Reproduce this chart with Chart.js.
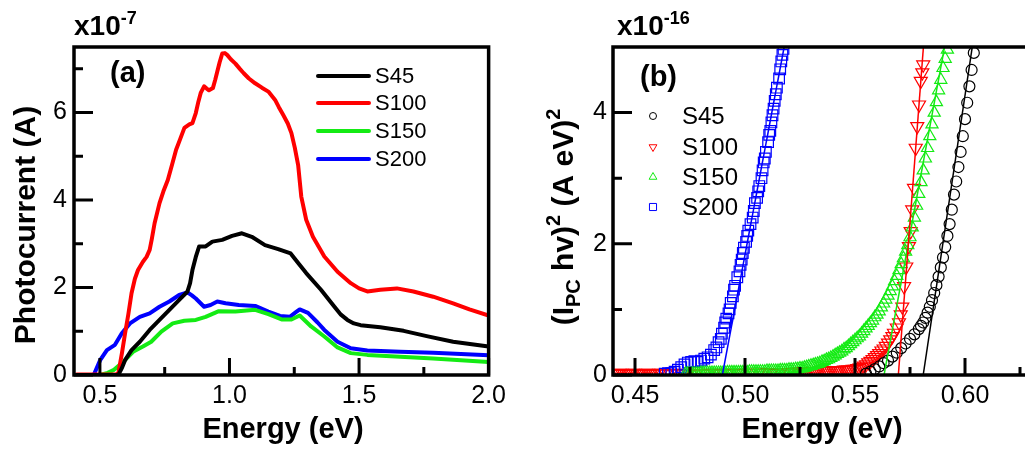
<!DOCTYPE html>
<html>
<head>
<meta charset="utf-8">
<script src="https://cdn.jsdelivr.net/npm/chart.js@4.4.0/dist/chart.umd.min.js"></script>
<style>
  html, body { margin: 0; padding: 0; background: #fff; overflow: hidden; width: 1025px; height: 450px; }
  #boxA { position: absolute; left: 0; top: 0; }
  #boxB { position: absolute; left: 512px; top: 0; }
</style>
</head>
<body>
<div id="boxA"><canvas id="chartA" width="512" height="450"></canvas></div>
<div id="boxB"><canvas id="chartB" width="530" height="450"></canvas></div>
<script>
const FONT = 'Arial, "Liberation Sans", Helvetica, sans-serif';
Chart.defaults.font.family = FONT;
Chart.defaults.color = '#000';

const sampleNames = ['S45', 'S100', 'S150', 'S200'];
const sampleColors = ['#000000', '#ff0000', 'rgb(20,235,20)', '#0000ff'];

// (a) photocurrent spectra, [energy eV, current x1e-7 A]
const photoS45 = [[0.41,0],[0.571,0],[0.584,0.15],[0.597,0.34],[0.622,0.57],[0.654,0.76],[0.692,1.03],[0.730,1.26],[0.768,1.49],[0.806,1.72],[0.838,1.91],[0.848,2.10],[0.857,2.40],[0.870,2.70],[0.883,2.94],[0.908,2.94],[0.934,3.05],[0.972,3.09],[1.010,3.18],[1.048,3.24],[1.086,3.16],[1.137,2.97],[1.188,2.88],[1.236,2.78],[1.265,2.56],[1.296,2.33],[1.353,1.95],[1.405,1.56],[1.430,1.38],[1.455,1.26],[1.480,1.18],[1.506,1.14],[1.582,1.09],[1.672,1.01],[1.761,0.89],[1.863,0.76],[2.0,0.65]];
const photoS100 = [[0.41,0.01],[0.50,0.01],[0.56,0.01],[0.571,0.04],[0.585,0.50],[0.597,0.95],[0.610,1.40],[0.622,1.87],[0.635,2.20],[0.647,2.40],[0.666,2.59],[0.680,2.70],[0.692,2.86],[0.700,3.10],[0.711,3.47],[0.730,3.93],[0.745,4.20],[0.762,4.46],[0.778,4.80],[0.794,5.15],[0.810,5.40],[0.826,5.65],[0.845,5.73],[0.857,5.76],[0.870,5.99],[0.880,6.25],[0.889,6.45],[0.902,6.60],[0.912,6.55],[0.921,6.51],[0.936,6.56],[0.945,6.75],[0.953,6.94],[0.962,7.15],[0.972,7.35],[0.982,7.36],[0.991,7.32],[1.005,7.22],[1.023,7.12],[1.040,7.00],[1.055,6.90],[1.075,6.78],[1.099,6.67],[1.125,6.57],[1.150,6.48],[1.176,6.29],[1.190,6.13],[1.207,5.95],[1.225,5.75],[1.239,5.53],[1.252,5.20],[1.265,4.80],[1.277,4.08],[1.296,3.55],[1.322,3.16],[1.366,2.71],[1.417,2.36],[1.468,2.10],[1.500,1.98],[1.532,1.91],[1.582,1.95],[1.646,1.98],[1.710,1.91],[1.786,1.79],[1.863,1.64],[1.926,1.50],[2.0,1.36]];
const photoS150 = [[0.41,0],[0.50,0],[0.530,0.05],[0.552,0.11],[0.590,0.30],[0.628,0.53],[0.666,0.65],[0.698,0.76],[0.737,0.99],[0.781,1.18],[0.826,1.24],[0.870,1.26],[0.908,1.33],[0.959,1.46],[1.023,1.45],[1.099,1.49],[1.150,1.39],[1.201,1.27],[1.239,1.27],[1.271,1.36],[1.315,1.11],[1.366,0.88],[1.417,0.63],[1.468,0.50],[1.532,0.46],[1.659,0.42],[1.786,0.38],[2.0,0.30]];
const photoS200 = [[0.41,0],[0.476,0],[0.501,0.34],[0.527,0.57],[0.558,0.69],[0.584,0.95],[0.616,1.18],[0.654,1.33],[0.692,1.41],[0.730,1.56],[0.768,1.68],[0.806,1.83],[0.838,1.89],[0.855,1.82],[0.870,1.75],[0.902,1.56],[0.927,1.60],[0.953,1.68],[0.985,1.64],[1.036,1.60],[1.099,1.58],[1.150,1.45],[1.195,1.35],[1.233,1.33],[1.255,1.43],[1.271,1.50],[1.303,1.42],[1.340,1.20],[1.366,1.03],[1.417,0.76],[1.468,0.61],[1.532,0.56],[1.659,0.53],[1.786,0.51],[2.0,0.45]];

// (b) (I_PC hv)^2 near the edge, [energy eV, value x1e-16]
const ipcS45 = [[0.555,0.02],[0.557,0.05],[0.559,0.09],[0.561,0.13],[0.563,0.18],[0.565,0.22],[0.567,0.28],[0.569,0.34],[0.571,0.41],[0.573,0.48],[0.575,0.55],[0.577,0.62],[0.579,0.70],[0.580,0.75],[0.581,0.80],[0.582,0.87],[0.583,0.95],[0.584,1.04],[0.585,1.14],[0.586,1.25],[0.587,1.37],[0.588,1.50],[0.589,1.64],[0.590,1.79],[0.591,1.95],[0.592,2.12],[0.593,2.30],[0.594,2.52],[0.595,2.75],[0.596,2.95],[0.597,3.17],[0.598,3.40],[0.599,3.64],[0.600,3.90],[0.601,4.15],[0.602,4.40],[0.603,4.65],[0.604,4.91]];
const ipcS100 = [[0.440,0.02],[0.441,0.02],[0.442,0.02],[0.443,0.03],[0.444,0.03],[0.445,0.02],[0.446,0.02],[0.447,0.02],[0.448,0.02],[0.449,0.03],[0.450,0.03],[0.451,0.02],[0.452,0.02],[0.453,0.02],[0.454,0.02],[0.455,0.03],[0.456,0.03],[0.457,0.02],[0.458,0.02],[0.459,0.02],[0.460,0.02],[0.461,0.03],[0.462,0.03],[0.464,0.02],[0.466,0.02],[0.468,0.03],[0.470,0.02],[0.472,0.02],[0.474,0.03],[0.476,0.02],[0.478,0.03],[0.480,0.02],[0.482,0.02],[0.484,0.03],[0.486,0.03],[0.488,0.02],[0.490,0.03],[0.492,0.03],[0.494,0.02],[0.496,0.03],[0.498,0.03],[0.500,0.03],[0.502,0.03],[0.504,0.03],[0.506,0.03],[0.508,0.03],[0.510,0.04],[0.512,0.03],[0.514,0.04],[0.516,0.04],[0.518,0.04],[0.520,0.04],[0.522,0.04],[0.524,0.05],[0.525,0.05],[0.526,0.05],[0.527,0.05],[0.528,0.05],[0.529,0.05],[0.530,0.05],[0.531,0.05],[0.532,0.05],[0.533,0.06],[0.534,0.06],[0.535,0.06],[0.536,0.06],[0.537,0.06],[0.538,0.06],[0.539,0.07],[0.540,0.07],[0.541,0.07],[0.542,0.07],[0.543,0.07],[0.544,0.07],[0.545,0.08],[0.546,0.08],[0.547,0.08],[0.548,0.08],[0.549,0.09],[0.550,0.09],[0.551,0.10],[0.552,0.11],[0.553,0.12],[0.554,0.14],[0.555,0.16],[0.556,0.19],[0.557,0.21],[0.558,0.24],[0.559,0.27],[0.560,0.30],[0.561,0.33],[0.562,0.37],[0.563,0.40],[0.564,0.44],[0.565,0.49],[0.566,0.54],[0.567,0.59],[0.5677,0.64],[0.569,0.72],[0.570,0.80],[0.5708,0.92],[0.5715,1.04],[0.5723,1.35],[0.5733,1.65],[0.5745,1.96],[0.5753,2.19],[0.576,2.52],[0.5768,2.85],[0.5776,3.46],[0.5783,3.79],[0.5791,4.12],[0.5799,4.48],[0.5806,4.61],[0.581,4.73]];
const ipcS150 = [[0.473,0.02],[0.474,0.02],[0.475,0.02],[0.476,0.02],[0.477,0.02],[0.478,0.02],[0.479,0.02],[0.480,0.03],[0.481,0.03],[0.482,0.03],[0.483,0.03],[0.484,0.03],[0.485,0.03],[0.486,0.03],[0.487,0.03],[0.488,0.03],[0.489,0.03],[0.490,0.03],[0.491,0.03],[0.492,0.04],[0.493,0.04],[0.494,0.04],[0.495,0.04],[0.496,0.04],[0.497,0.04],[0.498,0.04],[0.499,0.04],[0.500,0.04],[0.501,0.04],[0.502,0.05],[0.503,0.05],[0.504,0.05],[0.505,0.05],[0.506,0.05],[0.507,0.05],[0.508,0.05],[0.509,0.05],[0.510,0.06],[0.511,0.06],[0.512,0.06],[0.513,0.06],[0.514,0.06],[0.515,0.06],[0.516,0.07],[0.517,0.07],[0.518,0.07],[0.519,0.07],[0.520,0.08],[0.521,0.08],[0.522,0.08],[0.523,0.09],[0.524,0.09],[0.525,0.10],[0.526,0.10],[0.527,0.11],[0.528,0.12],[0.529,0.13],[0.530,0.14],[0.531,0.15],[0.532,0.16],[0.533,0.17],[0.534,0.18],[0.535,0.20],[0.536,0.21],[0.537,0.23],[0.538,0.24],[0.539,0.26],[0.540,0.28],[0.541,0.30],[0.542,0.32],[0.543,0.34],[0.544,0.36],[0.545,0.39],[0.546,0.41],[0.547,0.44],[0.548,0.47],[0.549,0.50],[0.550,0.53],[0.551,0.56],[0.552,0.59],[0.553,0.63],[0.554,0.67],[0.555,0.71],[0.556,0.75],[0.557,0.79],[0.558,0.83],[0.559,0.88],[0.560,0.92],[0.561,0.97],[0.562,1.03],[0.563,1.09],[0.564,1.15],[0.565,1.21],[0.566,1.28],[0.567,1.35],[0.568,1.43],[0.569,1.51],[0.570,1.60],[0.571,1.69],[0.572,1.78],[0.573,1.88],[0.574,1.98],[0.575,2.10],[0.576,2.25],[0.577,2.40],[0.578,2.58],[0.579,2.76],[0.580,2.94],[0.581,3.12],[0.582,3.30],[0.583,3.46],[0.584,3.64],[0.585,3.82],[0.586,4.00],[0.587,4.16],[0.588,4.34],[0.589,4.50],[0.590,4.68],[0.591,4.82],[0.592,4.96]];
const ipcS200 = [[0.4635,0.02],[0.465,0.03],[0.4665,0.03],[0.468,0.05],[0.4695,0.08],[0.471,0.12],[0.4725,0.16],[0.474,0.19],[0.4755,0.20],[0.477,0.21],[0.4785,0.20],[0.480,0.22],[0.4815,0.25],[0.483,0.27],[0.4845,0.31],[0.486,0.38],[0.487,0.42],[0.488,0.50],[0.489,0.55],[0.4895,0.63],[0.4905,0.72],[0.491,0.80],[0.4915,0.86],[0.4925,0.94],[0.493,1.00],[0.4935,1.10],[0.4945,1.20],[0.495,1.30],[0.4955,1.36],[0.4965,1.49],[0.4975,1.58],[0.498,1.68],[0.4985,1.76],[0.499,1.86],[0.4995,1.94],[0.5005,2.03],[0.501,2.12],[0.5015,2.20],[0.5025,2.30],[0.5035,2.40],[0.504,2.50],[0.5045,2.62],[0.5055,2.70],[0.506,2.80],[0.5065,2.88],[0.5075,3.00],[0.508,3.12],[0.5085,3.24],[0.509,3.30],[0.5095,3.40],[0.5105,3.55],[0.511,3.66],[0.5115,3.72],[0.512,3.85],[0.5125,3.96],[0.513,4.06],[0.5135,4.18],[0.514,4.28],[0.5145,4.38],[0.5155,4.52],[0.516,4.66],[0.5165,4.78],[0.517,4.88],[0.5175,4.97]];

// linear fits to the absorption edges
const fitS45 = [[0.581,0],[0.6033,5]];
const fitS100 = [[0.5697,0],[0.5811,5]];
const fitS150 = [[0.5632,0],[0.5907,5]];
const fitS200 = [[0.4897,0],[0.5178,5]];

// axis ticks
const aXMajor = [0.5, 1.0, 1.5, 2.0];
const aXLabels = ['0.5', '1.0', '1.5', '2.0'];
const aXMinor = [0.75, 1.25, 1.75];
const aYMajor = [0, 2, 4, 6];
const aYLabels = ['0', '2', '4', '6'];
const aYMinor = [1, 3, 5, 7];
const bXMajor = [0.45, 0.50, 0.55, 0.60];
const bXLabels = ['0.45', '0.50', '0.55', '0.60'];
const bXMinor = [0.475, 0.525, 0.575, 0.625];
const bYMajor = [0, 2, 4];
const bYLabels = ['0', '2', '4'];
const bYMinor = [1, 3];

const toXY = arr => arr.map(p => ({ x: p[0], y: p[1] }));

// draws a run of text pieces with their own size and baseline shift
function drawRich(ctx, parts, x, y, angle, align) {
    ctx.save();
    ctx.translate(x, y);
    ctx.rotate(angle);
    ctx.textBaseline = 'alphabetic';
    ctx.textAlign = 'left';
    ctx.fillStyle = '#000';
    let total = 0;
    parts.forEach(p => {
        ctx.font = `bold ${p[1]}px ${FONT}`;
        total += ctx.measureText(p[0]).width;
    });
    let cx = align === 'center' ? -total / 2 : 0;
    parts.forEach(p => {
        ctx.font = `bold ${p[1]}px ${FONT}`;
        ctx.fillText(p[0], cx, -p[2]);
        cx += ctx.measureText(p[0]).width;
    });
    ctx.restore();
}

// box around the plot area and inward tick marks
const framePlugin = {
    id: 'frame',
    afterDatasetsDraw(chart, args, opts) {
        const ctx = chart.ctx;
        const a = chart.chartArea;
        const xs = chart.scales.x, ys = chart.scales.y;
        ctx.save();
        ctx.strokeStyle = '#000';
        ctx.lineWidth = 3;
        ctx.lineCap = 'butt';
        ctx.beginPath();
        opts.xMajor.forEach(v => { const p = xs.getPixelForValue(v); ctx.moveTo(p, a.bottom); ctx.lineTo(p, a.bottom - 17); });
        opts.xMinor.forEach(v => { const p = xs.getPixelForValue(v); ctx.moveTo(p, a.bottom); ctx.lineTo(p, a.bottom - 8); });
        opts.yMajor.forEach(v => { const p = ys.getPixelForValue(v); ctx.moveTo(a.left, p); ctx.lineTo(a.left + 19, p); });
        opts.yMinor.forEach(v => { const p = ys.getPixelForValue(v); ctx.moveTo(a.left, p); ctx.lineTo(a.left + 9, p); });
        ctx.stroke();
        ctx.lineWidth = 3.5;
        ctx.strokeRect(a.left, a.top, a.right - a.left, a.bottom - a.top);
        ctx.restore();
    }
};

const textA = {
    id: 'textA',
    afterDraw(chart) {
        const ctx = chart.ctx;
        drawRich(ctx, [['x10', 28, 0], ['-7', 18, 11]], 74, 35, 0, 'left');
        drawRich(ctx, [['(a)', 29, 0]], 110, 82, 0, 'left');
        drawRich(ctx, [['Energy (eV)', 29, 0]], 283, 438, 0, 'center');
        drawRich(ctx, [['Photocurrent (A)', 30, 0]], 35, 225, -Math.PI / 2, 'center');
        const rows = [76, 103, 131, 159];
        ctx.save();
        ctx.lineWidth = 4;
        ctx.lineCap = 'round';
        ctx.font = `22px ${FONT}`;
        ctx.textBaseline = 'middle';
        sampleNames.forEach((n, i) => {
            ctx.strokeStyle = sampleColors[i];
            ctx.beginPath();
            ctx.moveTo(318, rows[i]);
            ctx.lineTo(369, rows[i]);
            ctx.stroke();
            ctx.fillStyle = '#000';
            ctx.fillText(n, 375, rows[i] + 1);
        });
        ctx.restore();
    }
};

const markerStyles = [
    { pointStyle: 'circle', radius: 5.5, legendRadius: 3.5, rotation: 0 },
    { pointStyle: 'triangle', radius: 7.5, legendRadius: 4.5, rotation: 180 },
    { pointStyle: 'triangle', radius: 7, legendRadius: 4.5, rotation: 0 },
    { pointStyle: 'rect', radius: 7.5, legendRadius: 5, rotation: 0 }
];

const textB = {
    id: 'textB',
    afterDraw(chart) {
        const ctx = chart.ctx;
        drawRich(ctx, [['x10', 28, 0], ['-16', 18, 11]], 105, 35, 0, 'left');
        drawRich(ctx, [['(b)', 29, 0]], 128, 86, 0, 'left');
        drawRich(ctx, [['Energy (eV)', 29, 0]], 310, 438, 0, 'center');
        drawRich(ctx, [['(I', 30, 0], ['PC', 20, -7], [' hv)', 30, 0], ['2', 20, 13], [' (A eV)', 30, 0], ['2', 20, 13]],
            61, 217, -Math.PI / 2, 'center');
        const rows = [116, 147, 177, 207];
        ctx.save();
        ctx.font = `24px ${FONT}`;
        ctx.textBaseline = 'middle';
        sampleNames.forEach((n, i) => {
            const m = markerStyles[i];
            ctx.strokeStyle = sampleColors[i];
            ctx.fillStyle = 'rgba(0,0,0,0)';
            ctx.lineWidth = 1;
            Chart.helpers.drawPoint(ctx, { pointStyle: m.pointStyle, radius: m.legendRadius, rotation: m.rotation, borderWidth: 1 }, 141, rows[i]);
            ctx.fillStyle = '#000';
            ctx.fillText(n, 170, rows[i] + 1);
        });
        ctx.restore();
    }
};

function axis(min, max, major, labels, fitSize, isX, pad, fontSize) {
    return {
        type: 'linear',
        min: min,
        max: max,
        afterBuildTicks: s => { s.ticks = major.map(v => ({ value: v })); },
        afterFit: s => { if (isX) s.height = fitSize; else s.width = fitSize; },
        grid: { display: false, drawTicks: false },
        border: { display: false },
        ticks: {
            autoSkip: false,
            maxRotation: 0,
            padding: pad,
            font: { size: fontSize },
            color: '#000',
            callback: (v, i) => labels[i]
        }
    };
}

const photoSets = [photoS45, photoS100, photoS150, photoS200];

new Chart(document.getElementById('chartA'), {
    type: 'scatter',
    data: {
        datasets: photoSets.map((d, i) => ({
            label: sampleNames[i],
            data: toXY(d),
            showLine: true,
            pointRadius: 0,
            borderColor: sampleColors[i],
            borderWidth: 4,
            borderJoinStyle: 'round',
            borderCapStyle: 'round'
        }))
    },
    options: {
        responsive: false,
        animation: false,
        layout: { padding: { top: 47, right: 19, left: 0, bottom: 0 } },
        plugins: {
            legend: { display: false },
            tooltip: { enabled: false },
            frame: { xMajor: aXMajor, xMinor: aXMinor, yMajor: aYMajor, yMinor: aYMinor }
        },
        scales: {
            x: axis(0.4, 2.0, aXMajor, aXLabels, 75, true, 6, 25),
            y: axis(0, 7.5, aYMajor, aYLabels, 74, false, 7, 25)
        }
    },
    plugins: [framePlugin, textA]
});

const ipcSets = [ipcS45, ipcS100, ipcS150, ipcS200];
const fitSets = [fitS45, fitS100, fitS150, fitS200];
const markerOrder = [1, 4, 2, 3];

new Chart(document.getElementById('chartB'), {
    type: 'scatter',
    data: {
        datasets: fitSets.map((d, i) => ({
            label: sampleNames[i] + ' fit',
            data: toXY(d),
            showLine: true,
            pointRadius: 0,
            borderColor: sampleColors[i],
            borderWidth: 1.5,
            order: 0
        })).concat(ipcSets.map((d, i) => ({
            label: sampleNames[i],
            data: toXY(d),
            showLine: false,
            pointStyle: markerStyles[i].pointStyle,
            pointRadius: markerStyles[i].radius,
            rotation: markerStyles[i].rotation,
            pointBorderColor: sampleColors[i],
            pointBackgroundColor: 'rgba(0,0,0,0)',
            pointBorderWidth: 1.2,
            order: markerOrder[i]
        })))
    },
    options: {
        responsive: false,
        animation: false,
        layout: { padding: { top: 47, right: 11, left: 0, bottom: 0 } },
        plugins: {
            legend: { display: false },
            tooltip: { enabled: false },
            frame: { xMajor: bXMajor, xMinor: bXMinor, yMajor: bYMajor, yMinor: bYMinor }
        },
        scales: {
            x: axis(0.44, 0.63, bXMajor, bXLabels, 75, true, 6, 25),
            y: axis(0, 5, bYMajor, bYLabels, 101, false, 6, 25)
        }
    },
    plugins: [framePlugin, textB]
});
</script>
</body>
</html>
